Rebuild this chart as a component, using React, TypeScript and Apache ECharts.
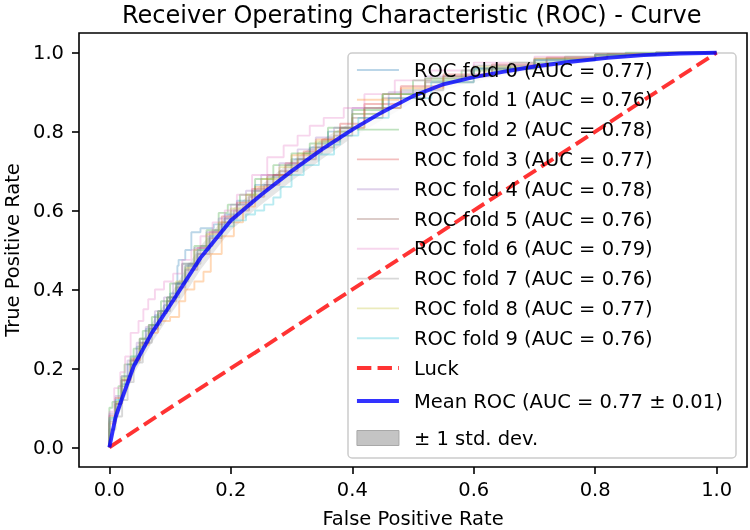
import React, { useEffect, useRef } from 'react';
import * as echarts from 'echarts';

const FONT = 'DejaVu Sans';
const titleText = 'Receiver Operating Characteristic (ROC) - Curve';
const xAxisName = 'False Positive Rate';
const yAxisName = 'True Positive Rate';
const xTicks = [0, 0.2, 0.4, 0.6, 0.8, 1.0];
const yTicks = [0, 0.2, 0.4, 0.6, 0.8, 1.0];

const foldColors = ['#1f77b4', '#ff7f0e', '#2ca02c', '#d62728', '#9467bd', '#8c564b', '#e377c2', '#7f7f7f', '#bcbd22', '#17becf'];
const foldAucs = [0.77, 0.76, 0.78, 0.77, 0.78, 0.76, 0.79, 0.76, 0.77, 0.76];

const fold0 = [[0,0],[0,0.03],[0.01,0.07],[0.02,0.11],[0.03,0.16],[0.045,0.21],[0.06,0.255],[0.075,0.3],[0.09,0.335],[0.1,0.36],[0.112,0.39],[0.114,0.46],[0.125,0.475],[0.135,0.5],[0.15,0.545],[0.172,0.555],[0.19,0.565],[0.21,0.59],[0.24,0.625],[0.27,0.665],[0.3,0.69],[0.33,0.73],[0.36,0.76],[0.4,0.8],[0.45,0.845],[0.52,0.895],[0.6,0.935],[0.7,0.96],[0.8,0.98],[0.9,0.995],[1,1]];
const fold1 = [[0,0],[0,0.02],[0.01,0.06],[0.02,0.11],[0.035,0.17],[0.05,0.22],[0.065,0.26],[0.08,0.29],[0.1,0.32],[0.115,0.33],[0.125,0.37],[0.14,0.4],[0.155,0.42],[0.167,0.445],[0.185,0.49],[0.205,0.535],[0.22,0.57],[0.24,0.61],[0.27,0.66],[0.3,0.69],[0.34,0.74],[0.38,0.78],[0.42,0.81],[0.48,0.86],[0.55,0.91],[0.62,0.94],[0.7,0.96],[0.8,0.985],[0.9,0.995],[1,1]];
const fold2 = [[0,0],[0,0.06],[0.005,0.1],[0.015,0.115],[0.025,0.155],[0.04,0.21],[0.055,0.25],[0.07,0.295],[0.085,0.33],[0.1,0.37],[0.12,0.415],[0.14,0.465],[0.16,0.51],[0.18,0.55],[0.195,0.594],[0.215,0.615],[0.24,0.64],[0.27,0.68],[0.3,0.715],[0.33,0.745],[0.36,0.77],[0.4,0.81],[0.45,0.855],[0.5,0.895],[0.58,0.93],[0.66,0.955],[0.75,0.975],[0.85,0.99],[1,1]];
const fold3 = [[0,0],[0,0.025],[0.01,0.08],[0.02,0.125],[0.035,0.18],[0.05,0.225],[0.065,0.275],[0.08,0.31],[0.095,0.345],[0.11,0.38],[0.125,0.415],[0.145,0.46],[0.165,0.505],[0.185,0.545],[0.21,0.585],[0.235,0.62],[0.26,0.655],[0.29,0.69],[0.32,0.72],[0.35,0.75],[0.38,0.78],[0.42,0.82],[0.48,0.87],[0.55,0.915],[0.63,0.945],[0.72,0.97],[0.82,0.988],[0.92,0.997],[1,1]];
const fold4 = [[0,0],[0,0.04],[0.01,0.085],[0.02,0.13],[0.03,0.17],[0.045,0.22],[0.06,0.265],[0.075,0.305],[0.09,0.345],[0.105,0.38],[0.12,0.415],[0.14,0.465],[0.16,0.505],[0.18,0.545],[0.2,0.58],[0.225,0.615],[0.25,0.65],[0.28,0.69],[0.31,0.72],[0.34,0.755],[0.37,0.785],[0.4,0.81],[0.46,0.86],[0.52,0.9],[0.6,0.94],[0.7,0.968],[0.8,0.985],[0.9,0.996],[1,1]];
const fold5 = [[0,0],[0,0.02],[0.01,0.065],[0.02,0.11],[0.035,0.17],[0.05,0.22],[0.065,0.265],[0.08,0.3],[0.095,0.34],[0.11,0.37],[0.125,0.405],[0.145,0.45],[0.165,0.49],[0.185,0.53],[0.205,0.57],[0.23,0.6],[0.255,0.635],[0.28,0.665],[0.31,0.7],[0.34,0.73],[0.37,0.76],[0.4,0.79],[0.45,0.835],[0.52,0.885],[0.6,0.925],[0.7,0.96],[0.8,0.982],[0.9,0.995],[1,1]];
const fold6 = [[0,0],[0,0.03],[0.008,0.09],[0.018,0.15],[0.026,0.19],[0.035,0.23],[0.048,0.29],[0.056,0.32],[0.064,0.35],[0.075,0.375],[0.09,0.4],[0.105,0.42],[0.12,0.44],[0.135,0.475],[0.15,0.5],[0.17,0.535],[0.19,0.57],[0.21,0.6],[0.235,0.64],[0.26,0.69],[0.287,0.735],[0.31,0.765],[0.33,0.79],[0.353,0.815],[0.386,0.835],[0.42,0.86],[0.47,0.895],[0.53,0.93],[0.6,0.955],[0.7,0.975],[0.8,0.99],[0.9,0.997],[1,1]];
const fold7 = [[0,0],[0,0.015],[0.01,0.045],[0.021,0.078],[0.03,0.12],[0.04,0.165],[0.055,0.215],[0.07,0.265],[0.085,0.31],[0.1,0.345],[0.115,0.38],[0.13,0.42],[0.15,0.465],[0.17,0.51],[0.19,0.55],[0.21,0.58],[0.235,0.615],[0.26,0.65],[0.29,0.685],[0.32,0.715],[0.35,0.745],[0.38,0.775],[0.42,0.81],[0.48,0.86],[0.55,0.905],[0.63,0.94],[0.72,0.965],[0.82,0.985],[0.92,0.996],[1,1]];
const fold8 = [[0,0],[0,0.03],[0.01,0.075],[0.02,0.115],[0.035,0.175],[0.05,0.23],[0.065,0.275],[0.08,0.31],[0.095,0.345],[0.11,0.38],[0.125,0.42],[0.14,0.455],[0.16,0.5],[0.18,0.54],[0.2,0.57],[0.225,0.605],[0.25,0.64],[0.28,0.68],[0.31,0.71],[0.34,0.745],[0.37,0.775],[0.4,0.8],[0.45,0.845],[0.52,0.895],[0.6,0.935],[0.7,0.965],[0.8,0.985],[0.9,0.996],[1,1]];
const fold9 = [[0,0],[0,0.025],[0.01,0.075],[0.02,0.12],[0.035,0.18],[0.05,0.23],[0.065,0.275],[0.08,0.31],[0.095,0.345],[0.11,0.38],[0.125,0.415],[0.145,0.46],[0.165,0.5],[0.185,0.535],[0.205,0.56],[0.225,0.575],[0.24,0.59],[0.255,0.6],[0.27,0.615],[0.282,0.633],[0.3,0.66],[0.32,0.69],[0.345,0.715],[0.37,0.742],[0.38,0.767],[0.41,0.79],[0.46,0.835],[0.53,0.885],[0.6,0.925],[0.7,0.96],[0.8,0.982],[0.9,0.995],[1,1]];
const folds = [fold0, fold1, fold2, fold3, fold4, fold5, fold6, fold7, fold8, fold9];

const meanFpr = [0, 0.01, 0.02, 0.04, 0.07, 0.1, 0.125, 0.15, 0.2, 0.25, 0.3, 0.35, 0.4, 0.45, 0.5, 0.55, 0.6, 0.65, 0.7, 0.76, 0.82, 0.88, 0.94, 1];
const meanTpr = [0, 0.075, 0.12, 0.205, 0.29, 0.36, 0.42, 0.48, 0.575, 0.64, 0.7, 0.755, 0.805, 0.85, 0.89, 0.92, 0.938, 0.952, 0.965, 0.977, 0.987, 0.994, 0.998, 1];
const stdTpr = [0, 0.02, 0.02, 0.02, 0.025, 0.025, 0.03, 0.03, 0.025, 0.025, 0.025, 0.025, 0.02, 0.02, 0.015, 0.015, 0.012, 0.01, 0.01, 0.008, 0.006, 0.004, 0.002, 0];
const meanAuc = 0.77;
const stdAuc = 0.01;

const luckX = [0, 1];
const luckY = [0, 1];

const foldName = (i: number) => `ROC fold ${i} (AUC = ${foldAucs[i].toFixed(2)})`;
const meanName = `Mean ROC (AUC = ${meanAuc.toFixed(2)} \u00b1 ${stdAuc.toFixed(2)})`;
const luckName = 'Luck';
const stdName = '\u00b1 1 std. dev.';

export default function App() {
  const ref = useRef<HTMLDivElement>(null);
  useEffect(() => {
    if (!ref.current) return;
    const chart = echarts.init(ref.current, undefined, { renderer: 'svg' });
    const upperPts = meanFpr.map((x, i) => [x, Math.min(1, meanTpr[i] + stdTpr[i])]);
    const lowerPts = meanFpr.map((x, i) => [x, Math.max(0, meanTpr[i] - stdTpr[i])]).reverse();
    const textStyle = { fontFamily: FONT, fontSize: 19.5, color: '#000', lineHeight: 22, padding: [0, 0, 0, 10] };
    const series: any[] = folds.map((d, i) => ({
      type: 'line', name: foldName(i), data: d, step: 'start', symbol: 'none', showSymbol: false,
      color: foldColors[i], lineStyle: { color: foldColors[i], width: 1.9, opacity: 0.3 }, silent: true,
    }));
    series.push({
      type: 'line', name: luckName, data: luckX.map((x, i) => [x, luckY[i]]), symbol: 'none', showSymbol: false,
      color: '#ff0000', lineStyle: { color: '#ff0000', width: 3.9, type: [14.4, 6.2], opacity: 0.8 }, silent: true,
    });
    series.push({
      type: 'line', name: meanName, data: meanFpr.map((x, i) => [x, meanTpr[i]]), symbol: 'none', showSymbol: false,
      color: '#0000ff', lineStyle: { color: '#0000ff', width: 3.9, opacity: 0.8 }, silent: true,
    });
    series.push({
      type: 'custom', name: stdName, data: [[0, 0]], silent: true, color: '#808080',
      renderItem: (params: any, api: any) => {
        if (params.dataIndex !== 0) return null;
        const pts = [...upperPts, ...lowerPts].map((p) => api.coord(p));
        return { type: 'polygon', shape: { points: pts }, style: { fill: 'rgba(128,128,128,0.2)', stroke: 'none' } };
      },
    });
    chart.setOption({
      animation: false,
      title: {
        text: titleText, left: 117, top: -2,
        textStyle: { fontFamily: FONT, fontSize: 24, fontWeight: 'normal', color: '#000' },
      },
      grid: {
        left: 79, right: 3, top: 33, bottom: 63, show: true, borderColor: '#000', borderWidth: 1.6,
        backgroundColor: 'transparent', containLabel: false, outerBoundsMode: 'none',
      },
      xAxis: {
        type: 'value', min: -0.05, max: 1.05,
        name: xAxisName, nameLocation: 'middle', nameGap: 41,
        nameTextStyle: { fontFamily: FONT, fontSize: 19.5, color: '#000' },
        axisLine: { show: false, onZero: false },
        splitLine: { show: false },
        axisTick: { show: true, length: 7, customValues: xTicks, lineStyle: { color: '#000', width: 1.6 } },
        axisLabel: { customValues: xTicks, margin: 12, formatter: (v: number) => v.toFixed(1), fontFamily: FONT, fontSize: 19.5, color: '#000' },
      },
      yAxis: {
        type: 'value', min: -0.05, max: 1.05,
        name: yAxisName, nameLocation: 'middle', nameGap: 57,
        nameTextStyle: { fontFamily: FONT, fontSize: 19.5, color: '#000' },
        axisLine: { show: false, onZero: false },
        splitLine: { show: false },
        axisTick: { show: true, length: 7, customValues: yTicks, lineStyle: { color: '#000', width: 1.6 } },
        axisLabel: { customValues: yTicks, margin: 15, formatter: (v: number) => v.toFixed(1), fontFamily: FONT, fontSize: 19.5, color: '#000' },
      },
      legend: [
        {
          orient: 'vertical', left: 355, top: 59, padding: 0, itemWidth: 42, itemHeight: 14, itemGap: 7.8,
          selectedMode: false, data: [...folds.map((_, i) => foldName(i)), luckName],
          textStyle, lineStyle: { width: 'inherit' }, itemStyle: { opacity: 0 },
        },
        {
          orient: 'vertical', left: 355, top: 390, padding: 0, itemWidth: 42, itemHeight: 15, itemGap: 15,
          selectedMode: false,
          data: [meanName, { name: stdName, icon: 'rect', itemStyle: { color: '#c4c4c4', borderColor: '#a8a8a8', borderWidth: 1, opacity: 1 } }],
          textStyle, lineStyle: { width: 'inherit' }, itemStyle: { opacity: 0 },
        },
      ],
      graphic: [
        {
          type: 'rect', z: 3, shape: { x: 348, y: 53, width: 388, height: 405, r: 4 },
          style: { fill: 'rgba(255,255,255,0.8)', stroke: '#cccccc', lineWidth: 1.5 },
        },
      ],
      series,
    });
    return () => chart.dispose();
  }, []);
  return <div ref={ref} style={{ position: 'fixed', left: 0, top: 0, width: 750, height: 530 }} />;
}
